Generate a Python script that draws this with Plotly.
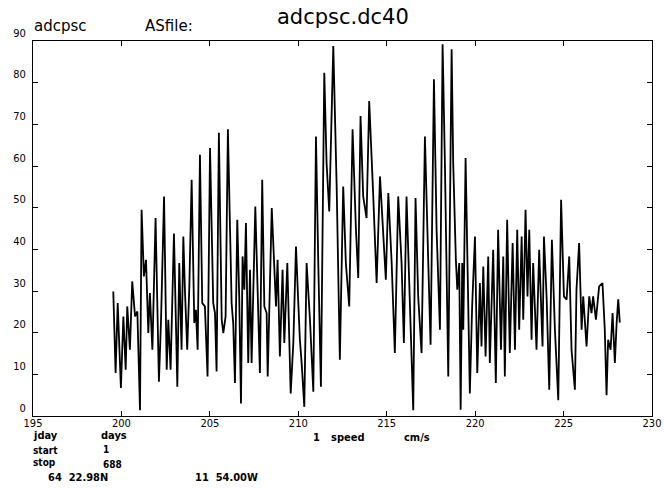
import plotly.graph_objects as go

# hourly current speed (turning points of the trace)
days = [
    199.54, 199.67, 199.79, 199.97, 200.11, 200.24, 200.33, 200.48, 200.61, 200.77,
    200.90, 201.05, 201.14, 201.27, 201.39, 201.52, 201.61, 201.75, 201.93, 202.12,
    202.24, 202.41, 202.56, 202.65, 202.78, 202.97, 203.16, 203.27, 203.40, 203.50,
    203.59, 203.72, 203.84, 203.97, 204.12, 204.21, 204.31, 204.44, 204.57, 204.72,
    204.87, 205.01, 205.19, 205.29, 205.38, 205.51, 205.67, 205.76, 205.89, 206.02,
    206.23, 206.32, 206.42, 206.55, 206.66, 206.76, 206.85, 206.95, 207.04, 207.17,
    207.27, 207.36, 207.57, 207.74, 207.83, 207.96, 208.08, 208.21, 208.27, 208.50,
    208.74, 208.83, 208.96, 209.11, 209.21, 209.38, 209.49, 209.57, 209.72, 209.87,
    210.00, 210.09, 210.19, 210.34, 210.47, 210.66, 210.85, 211.00, 211.13, 211.28,
    211.47, 211.60, 211.75, 211.98, 212.17, 212.35, 212.54, 212.69, 212.88, 213.07,
    213.26, 213.39, 213.52, 213.67, 213.86, 214.01, 214.24, 214.43, 214.62, 214.77,
    214.95, 215.09, 215.28, 215.46, 215.65, 215.84, 215.97, 216.12, 216.31, 216.50,
    216.63, 216.78, 216.97, 217.16, 217.35, 217.48, 217.67, 217.82, 218.01, 218.16,
    218.29, 218.48, 218.67, 218.76, 218.91, 218.99, 219.10, 219.18, 219.27, 219.33,
    219.46, 219.61, 219.70, 219.83, 219.99, 220.12, 220.27, 220.36, 220.46, 220.59,
    220.74, 220.83, 221.02, 221.17, 221.30, 221.46, 221.59, 221.68, 221.81, 221.96,
    222.12, 222.25, 222.38, 222.49, 222.63, 222.72, 222.85, 222.96, 223.06, 223.19,
    223.28, 223.47, 223.62, 223.81, 223.89, 224.04, 224.19, 224.34, 224.51, 224.70,
    224.86, 225.02, 225.17, 225.32, 225.45, 225.64, 225.73, 225.88, 226.02, 226.11,
    226.30, 226.45, 226.58, 226.67, 226.83, 227.01, 227.20, 227.33, 227.43, 227.52,
    227.66, 227.77, 227.90, 228.00, 228.09, 228.18,
]
speed = [
    29.9, 10.3, 27.1, 6.7, 23.9, 11.1, 26.3, 15.9, 32.3, 23.9,
    25.1, 1.4, 49.5, 33.5, 37.5, 19.9, 29.5, 15.9, 47.5, 8.2,
    23.1, 52.7, 11.1, 23.1, 11.1, 43.8, 7.0, 36.7, 15.9, 43.1,
    30.3, 15.9, 31.1, 56.7, 22.3, 25.5, 15.9, 62.7, 27.1, 26.3,
    9.5, 64.3, 27.1, 24.7, 10.7, 68.0, 23.1, 19.9, 23.9, 68.8,
    27.1, 22.3, 7.9, 47.1, 28.7, 3.0, 38.3, 30.3, 46.3, 12.7,
    35.1, 12.7, 50.3, 23.1, 10.3, 56.7, 26.3, 24.7, 9.5, 49.9,
    26.3, 37.5, 14.3, 35.1, 17.5, 36.7, 18.3, 5.4, 17.5, 40.7,
    27.1, 18.3, 12.7, 2.2, 36.7, 23.1, 5.8, 67.1, 36.7, 7.0,
    82.4, 60.7, 49.1, 88.8, 55.1, 13.5, 55.1, 36.7, 26.3, 68.8,
    44.7, 33.1, 72.0, 52.7, 47.5, 75.6, 52.7, 31.9, 57.5, 46.3,
    32.7, 53.5, 36.7, 15.1, 52.7, 36.7, 17.5, 52.7, 28.7, 1.4,
    52.3, 28.7, 15.1, 67.1, 36.7, 17.1, 80.8, 44.7, 20.7, 89.2,
    60.7, 9.5, 88.0, 60.7, 37.5, 30.3, 36.7, 1.5, 36.7, 20.7,
    61.9, 20.7, 5.4, 26.3, 43.1, 10.3, 31.9, 16.7, 35.9, 14.3,
    38.3, 12.7, 39.9, 7.9, 44.7, 15.9, 38.3, 9.5, 47.1, 15.1,
    41.5, 15.9, 44.7, 20.7, 43.1, 23.1, 49.5, 28.7, 44.7, 18.3,
    36.7, 15.9, 39.9, 16.7, 43.1, 28.7, 6.3, 42.3, 20.7, 3.8,
    51.9, 28.7, 27.9, 38.3, 15.9, 6.3, 30.3, 41.5, 20.7, 28.7,
    16.7, 28.7, 24.7, 28.7, 23.1, 31.1, 31.9, 20.7, 5.0, 18.3,
    15.9, 24.7, 12.7, 22.3, 28.0, 22.4,
]

x_ticks = [195, 200, 205, 210, 215, 220, 225, 230]
y_ticks = [0, 10, 20, 30, 40, 50, 60, 70, 80, 90]

plot_font = "DejaVu Sans Condensed, DejaVu Sans, sans-serif"

fig = go.Figure()
fig.add_trace(go.Scatter(x=days, y=speed, mode="lines",
                         line=dict(color="black", width=1.8),
                         hoverinfo="skip"))

fig.update_layout(
    width=664, height=488,
    margin=dict(l=33, r=12, t=41, b=72, autoexpand=False),
    paper_bgcolor="white", plot_bgcolor="white",
    showlegend=False,
    font=dict(family=plot_font, color="black"),
)
fig.update_xaxes(range=[195, 230], tickvals=x_ticks, ticks="inside", ticklen=5,
                 tickcolor="black", mirror="ticks", showline=True, linecolor="black",
                 linewidth=1, showgrid=False, zeroline=False, automargin=False,
                 ticklabelstandoff=-3,
                 tickfont=dict(size=11, family=plot_font))
fig.update_yaxes(range=[0, 90], tickvals=y_ticks, ticks="inside", ticklen=5,
                 tickcolor="black", mirror="ticks", showline=True, linecolor="black",
                 linewidth=1, showgrid=False, zeroline=False, automargin=False,
                 ticklabelposition="outside top", ticklabelstandoff=4,
                 tickfont=dict(size=11, family=plot_font))

# header texts: (text, px right of plot left edge, px above plot top, size)
head = [("adcpsc", -1, 15, 15), ("ASfile:", 110, 15, 15),
        ("adcpsc.dc40", 242, 24, 21)]
for txt, dx, dy, sz in head:
    fig.add_annotation(text=txt, x=0, y=1, xref="paper", yref="paper",
                       xshift=dx, yshift=dy,
                       xanchor="left", yanchor="middle", showarrow=False,
                       font=dict(size=sz, family="DejaVu Sans"))

# footer texts: (text, px right of plot left edge, px below plot bottom, size)
foot = [("jday", -2, 19, 11), ("days", 66, 19, 11),
        ("1", 278, 21, 11), ("speed", 296, 21, 11), ("cm/s", 369, 21, 11),
        ("start", -2, 34, 10), ("1", 68, 33, 10),
        ("stop", -2, 46, 10), ("688", 68, 48, 10),
        ("64  22.98N", 13, 61, 11), ("11  54.00W", 160, 61, 11)]
for txt, dx, dy, sz in foot:
    fig.add_annotation(text="<b>" + txt + "</b>", x=0, y=0, xref="paper", yref="paper",
                       xshift=dx, yshift=-dy,
                       xanchor="left", yanchor="middle", showarrow=False,
                       font=dict(size=sz, family=plot_font))

# drop the default page margin so the figure sits at the window's corner
fig.write_html("out.html", config={"displayModeBar": False},
               post_script="document.body.style.margin='0';"
                           "document.body.style.overflow='hidden';")
